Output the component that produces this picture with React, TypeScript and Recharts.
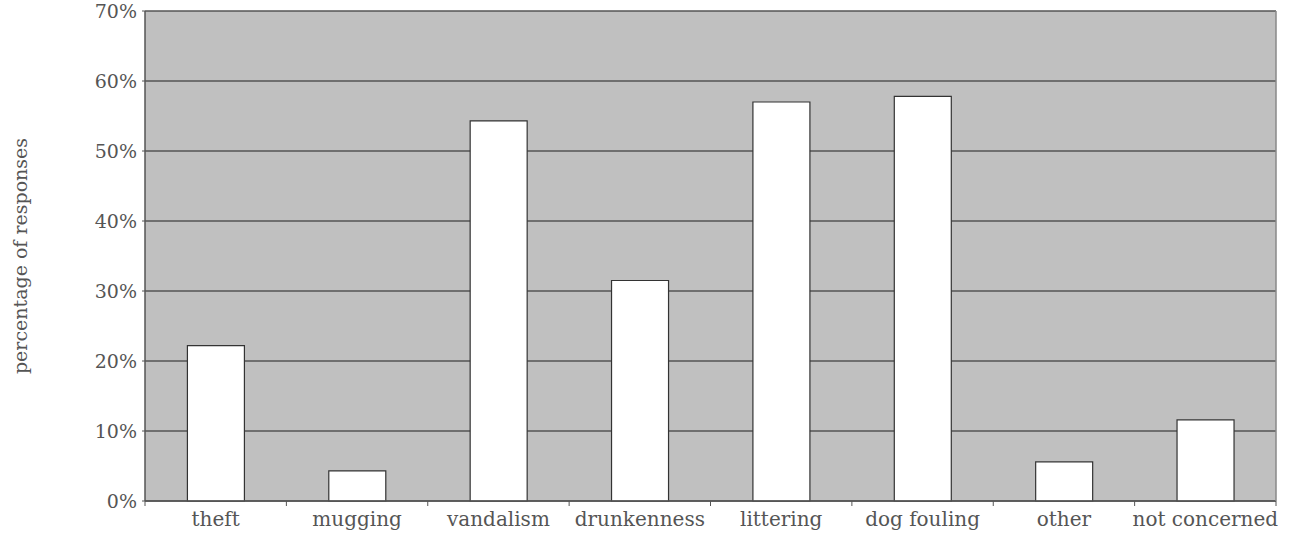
import { Bar, BarChart, CartesianGrid, XAxis, YAxis } from 'recharts'

const categories = [
  'theft',
  'mugging',
  'vandalism',
  'drunkenness',
  'littering',
  'dog fouling',
  'other',
  'not concerned',
]
const percentages = [22.2, 4.3, 54.3, 31.5, 57.0, 57.8, 5.6, 11.6]
const yTicks = [0, 10, 20, 30, 40, 50, 60, 70]

const data = categories.map((name, i) => ({ name, value: percentages[i] }))

const FONT = 'DejaVu Serif'
const TEXT = '#555555'

// category label in the middle, tick mark on the band boundary
const CategoryTick = (props: any) => {
  const { x, y, payload, index } = props
  const half = payload.offset ?? 0
  return (
    <g>
      <line x1={x - half} x2={x - half} y1={y - 8} y2={y - 3} stroke="#555" />
      {index === categories.length - 1 && (
        <line x1={x + half} x2={x + half} y1={y - 8} y2={y - 3} stroke="#555" />
      )}
      <text
        x={x}
        y={y + 17}
        textAnchor="middle"
        fill={TEXT}
        fontFamily={FONT}
        fontSize={20}
      >
        {payload.value}
      </text>
    </g>
  )
}

const App = () => {
  return (
    <div style={{ position: 'absolute', left: 0, top: 0 }}>
      <BarChart
        width={1289}
        height={538}
        data={data}
        margin={{ top: 11, right: 0, bottom: 0, left: 0 }}
        barCategoryGap="30%"
      >
        <CartesianGrid
          vertical={false}
          stroke="#555"
          strokeWidth={1.5}
          fill="#c0c0c0"
          fillOpacity={1}
        />
        <XAxis
          dataKey="name"
          height={37}
          tickLine={false}
          axisLine={{ stroke: '#555', strokeWidth: 1.5 }}
          tick={<CategoryTick />}
          interval={0}
        />
        <YAxis
          type="number"
          domain={[0, 70]}
          ticks={yTicks}
          width={145}
          tickSize={3}
          tickMargin={5}
          tickFormatter={(v: number) => `${v}%`}
          axisLine={{ stroke: '#555', strokeWidth: 1.5 }}
          tickLine={{ stroke: '#555' }}
          tick={{ fill: TEXT, fontFamily: FONT, fontSize: 19 }}
          label={{
            value: 'percentage of responses',
            angle: -90,
            position: 'center',
            dx: -52,
            fill: TEXT,
            fontFamily: FONT,
            fontSize: 19,
          }}
        />
        <YAxis
          yAxisId="right"
          orientation="right"
          domain={[0, 70]}
          width={13}
          tick={false}
          tickLine={false}
          axisLine={{ stroke: '#888', strokeWidth: 1.5 }}
        />
        <Bar
          dataKey="value"
          fill="#ffffff"
          stroke="#333"
          strokeWidth={1.2}
          isAnimationActive={false}
        />
      </BarChart>
    </div>
  )
}

export default App
